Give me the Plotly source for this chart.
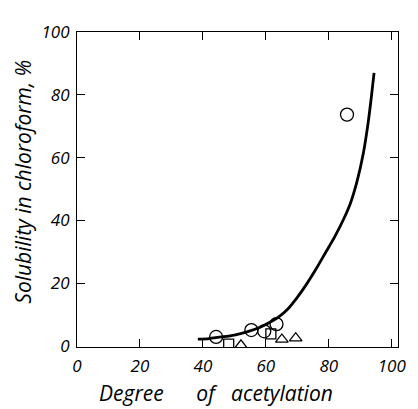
import plotly.graph_objects as go

# Data
circle_x = [44.2, 55.4, 59.5, 63.4, 85.8]
circle_y = [2.9, 5.1, 4.7, 7.0, 73.7]
square_x = [48.2, 61.6]
square_y = [0.6, 3.9]
triangle_x = [52.1, 65.1, 69.5]
triangle_y = [0.2, 2.1, 2.5]
curve_x = [38.4, 42.0, 46.0, 50.0, 54.0, 58.0, 61.0, 64.0, 67.0, 70.0, 73.0, 76.0, 79.0, 82.0, 85.0, 87.0, 89.0, 91.0, 92.5, 93.5, 94.4]
curve_y = [2.2, 2.4, 2.9, 3.5, 4.5, 5.9, 7.4, 9.2, 11.8, 15.5, 19.8, 24.6, 29.8, 35.0, 41.0, 45.8, 52.5, 61.5, 71.0, 79.0, 87.0]
x_ticks = [0, 20, 40, 60, 80, 100]
y_ticks = [0, 20, 40, 60, 80, 100]
x_title = "Degree" + "\u00a0" * 6 + "of" + "\u00a0" * 3 + "acetylation"
y_title = "Solubility in chloroform, %"

FAM = "Open Sans"
font = dict(family=FAM, size=17, color="black", style="italic", weight=400)
xtfont = dict(family=FAM, size=21, color="black", style="italic", weight=400)
ytfont = dict(family=FAM, size=21, color="black", style="italic", weight=400)

fig = go.Figure()
fig.add_trace(go.Scatter(x=curve_x, y=curve_y, mode="lines",
                         line=dict(color="black", width=2.8, shape="spline", smoothing=0.8), showlegend=False))
fig.add_trace(go.Scatter(x=circle_x, y=circle_y, mode="markers",
                         marker=dict(symbol="circle-open", size=13, color="black", line=dict(width=1.3)), showlegend=False))
fig.add_trace(go.Scatter(x=square_x, y=square_y, mode="markers",
                         marker=dict(symbol="square-open", size=10, color="black", line=dict(width=1.3)), showlegend=False))
fig.add_trace(go.Scatter(x=triangle_x, y=triangle_y, mode="markers",
                         marker=dict(symbol="triangle-up-open", size=11, color="black", line=dict(width=1.3)), showlegend=False))

fig.update_layout(
    width=410, height=401,
    margin=dict(l=69, r=15, t=13, b=62),
    paper_bgcolor="white", plot_bgcolor="white",
    font=font,
    annotations=[
        dict(text=x_title, xref="paper", yref="paper", x=0.433, y=-0.147, xanchor="center", yanchor="middle",
             showarrow=False, font=xtfont),
        dict(text=y_title, xref="paper", yref="paper", x=-0.168, y=0.525, xanchor="center", yanchor="middle",
             textangle=-90, showarrow=False, font=ytfont),
    ],
)
fig.update_xaxes(range=[0, 102], tickvals=x_ticks, ticktext=[str(v) for v in x_ticks],
                 showgrid=False, zeroline=False, showline=True, linecolor="black", linewidth=1.2,
                 mirror="ticks", ticks="inside", ticklen=8, tickcolor="black", tickwidth=1.2,
                 tickfont=font, ticklabelstandoff=3)
fig.update_yaxes(range=[-0.3, 100], tickvals=y_ticks, ticktext=[str(v) for v in y_ticks],
                 showgrid=False, zeroline=False, showline=True, linecolor="black", linewidth=1.2,
                 mirror="ticks", ticks="inside", ticklen=8, tickcolor="black", tickwidth=1.2,
                 tickfont=font, ticklabelstandoff=3)

fig.write_html("out.html")
